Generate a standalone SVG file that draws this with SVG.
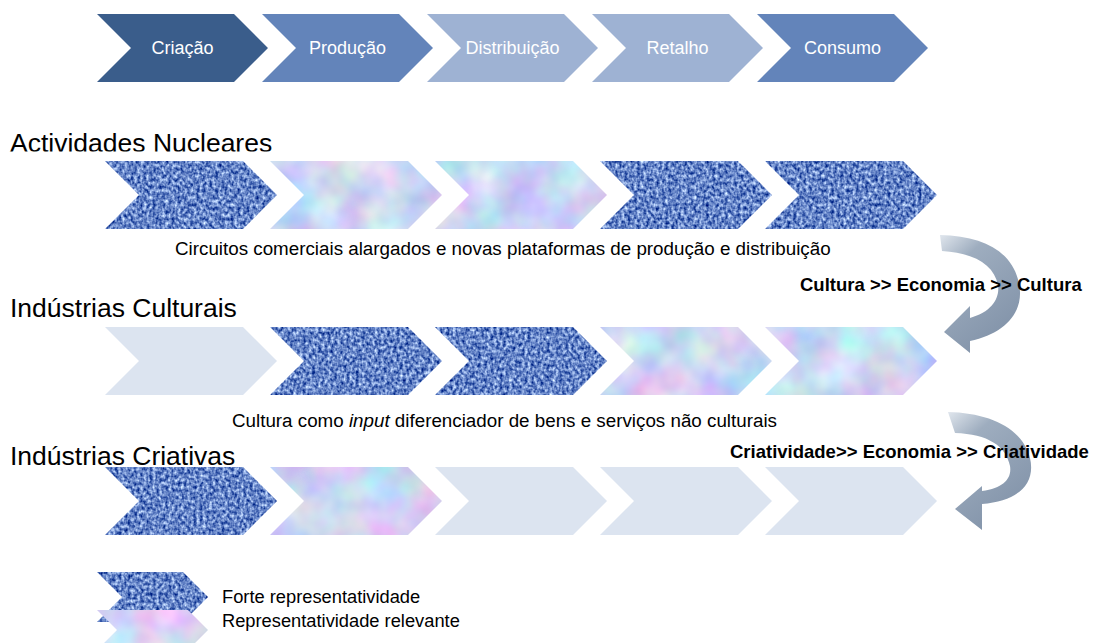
<svg xmlns="http://www.w3.org/2000/svg" width="1093" height="643" viewBox="0 0 1093 643">
<style>
.lbl{font-family:"Liberation Sans",Arial,sans-serif;font-size:18px;fill:#ffffff;text-anchor:middle}
.row{font-family:"Liberation Sans",Arial,sans-serif;font-size:26.5px;fill:#000}
.sub{font-family:"Liberation Sans",Arial,sans-serif;font-size:18.8px;fill:#000}
.leg{font-family:"Liberation Sans",Arial,sans-serif;font-size:18.3px;fill:#000}
.bold{font-family:"Liberation Sans",Arial,sans-serif;font-size:18.5px;font-weight:bold;fill:#000}
.dk{fill:#3a5d8b}
.md{fill:#6384ba}
.lt{fill:#9eb2d3}
.pale{fill:#dce4f0}
.denim{fill:#5a7ab5;filter:url(#fDenim)}
.pastel{fill:#cdd9f0;filter:url(#fPastel)}
</style>
<defs>
<filter id="fDenim" x="0" y="0" width="1" height="1" color-interpolation-filters="sRGB">
<feTurbulence type="fractalNoise" baseFrequency="0.32 0.28" numOctaves="2" seed="3" result="n"/>
<feColorMatrix in="n" type="matrix" values="1.3 0 0 0 -0.25  1.2 0 0 0 -0.08  0.8 0 0 0 0.38  0 0 0 0 1" result="c"/>
<feComposite in="c" in2="SourceGraphic" operator="in"/>
</filter>
<filter id="fPastel" x="0" y="0" width="1" height="1" color-interpolation-filters="sRGB">
<feTurbulence type="fractalNoise" baseFrequency="0.022" numOctaves="3" seed="7" result="n"/>
<feColorMatrix in="n" type="matrix" values="0.45 0 0 0 0.58  0 0.42 0 0 0.63  0 0 0.2 0 0.85  0 0 0 0 1" result="c"/>
<feComposite in="c" in2="SourceGraphic" operator="in"/>
</filter>
<linearGradient id="gArrow" x1="0" y1="0" x2="0.6" y2="1">
<stop offset="0" stop-color="#e0e6ed"/>
<stop offset="0.28" stop-color="#9eadbf"/>
<stop offset="1" stop-color="#8293a9"/>
</linearGradient>
<clipPath id="clipTitle1"><rect x="0" y="120" width="400" height="31.5"/></clipPath>
</defs>

<g id="stage-criacao"><path class="dk" d="M97,14 L234,14 L268,48 L234,82 L97,82 L131,48 Z"/><text class="lbl" x="182.5" y="54">Criação</text></g>
<g id="stage-producao"><path class="md" d="M262,14 L399,14 L433,48 L399,82 L262,82 L296,48 Z"/><text class="lbl" x="347.5" y="54">Produção</text></g>
<g id="stage-distribuicao"><path class="lt" d="M427,14 L564,14 L598,48 L564,82 L427,82 L461,48 Z"/><text class="lbl" x="512.5" y="54">Distribuição</text></g>
<g id="stage-retalho"><path class="lt" d="M592,14 L729,14 L763,48 L729,82 L592,82 L626,48 Z"/><text class="lbl" x="677.5" y="54">Retalho</text></g>
<g id="stage-consumo"><path class="md" d="M757,14 L894,14 L928,48 L894,82 L757,82 L791,48 Z"/><text class="lbl" x="842.5" y="54">Consumo</text></g>

<g id="row-nucleares">
<text class="row" x="10" y="152" clip-path="url(#clipTitle1)">Actividades Nucleares</text>
<path class="denim" d="M105,161 L243,161 L277,195 L243,229 L105,229 L139,195 Z"/>
<path class="pastel" d="M270,161 L408,161 L442,195 L408,229 L270,229 L304,195 Z"/>
<path class="pastel" d="M435,161 L573,161 L607,195 L573,229 L435,229 L469,195 Z"/>
<path class="denim" d="M600,161 L738,161 L772,195 L738,229 L600,229 L634,195 Z"/>
<path class="denim" d="M765,161 L903,161 L937,195 L903,229 L765,229 L799,195 Z"/>
<text class="sub" x="175" y="255">Circuitos comerciais alargados e novas plataformas de produção e distribuição</text>
</g>

<g id="row-culturais">
<text class="row" x="10" y="317">Indústrias Culturais</text>
<path class="pale" d="M105,327 L243,327 L277,361 L243,395 L105,395 L139,361 Z"/>
<path class="denim" d="M270,327 L408,327 L442,361 L408,395 L270,395 L304,361 Z"/>
<path class="denim" d="M435,327 L573,327 L607,361 L573,395 L435,395 L469,361 Z"/>
<path class="pastel" d="M600,327 L738,327 L772,361 L738,395 L600,395 L634,361 Z"/>
<path class="pastel" d="M765,327 L903,327 L937,361 L903,395 L765,395 L799,361 Z"/>
<text class="sub" x="232" y="427">Cultura como <tspan font-style="italic">input</tspan> diferenciador de bens e serviços não culturais</text>
</g>

<g id="row-criativas">
<text class="row" x="10" y="465">Indústrias Criativas</text>
<path class="denim" d="M105,467 L243,467 L277,501 L243,535 L105,535 L139,501 Z"/>
<path class="pastel" d="M270,467 L408,467 L442,501 L408,535 L270,535 L304,501 Z"/>
<path class="pale" d="M435,467 L573,467 L607,501 L573,535 L435,535 L469,501 Z"/>
<path class="pale" d="M600,467 L738,467 L772,501 L738,535 L600,535 L634,501 Z"/>
<path class="pale" d="M765,467 L903,467 L937,501 L903,535 L765,535 L799,501 Z"/>
</g>

<g id="connectors">
<path fill="url(#gArrow)" d="M940,235 C985,236 1012,252 1019,283 C1025,312 1005,334 970,341 L970,353 L944,332 L970,306 L970,318 C992,312 1000,298 998,285 C994,265 975,253 942,251 Z"/>
<path fill="url(#gArrow)" d="M948,412 C990,413 1022,428 1030,458 C1036,484 1018,501 982,504 L982,530 L955,509 L982,486 L982,491 C1004,488 1012,478 1010,466 C1006,446 988,434 955,433 Z"/>
</g>

<g id="label-cultura-economia"><text class="bold" x="800" y="291">Cultura &gt;&gt; Economia &gt;&gt; Cultura</text></g>
<g id="label-criatividade-economia"><text class="bold" x="730" y="458">Criatividade&gt;&gt; Economia &gt;&gt; Criatividade</text></g>

<g id="legend-forte">
<path class="denim" d="M97,572 L183,572 L208,597 L183,622 L97,622 L122,597 Z"/>
<text class="leg" x="222" y="603">Forte representatividade</text>
</g>
<g id="legend-relevante">
<path class="pastel" d="M97,610 L188,610 L208,630 L188,650 L97,650 L117,630 Z"/>
<text class="leg" x="222" y="627">Representatividade relevante</text>
</g>
</svg>
